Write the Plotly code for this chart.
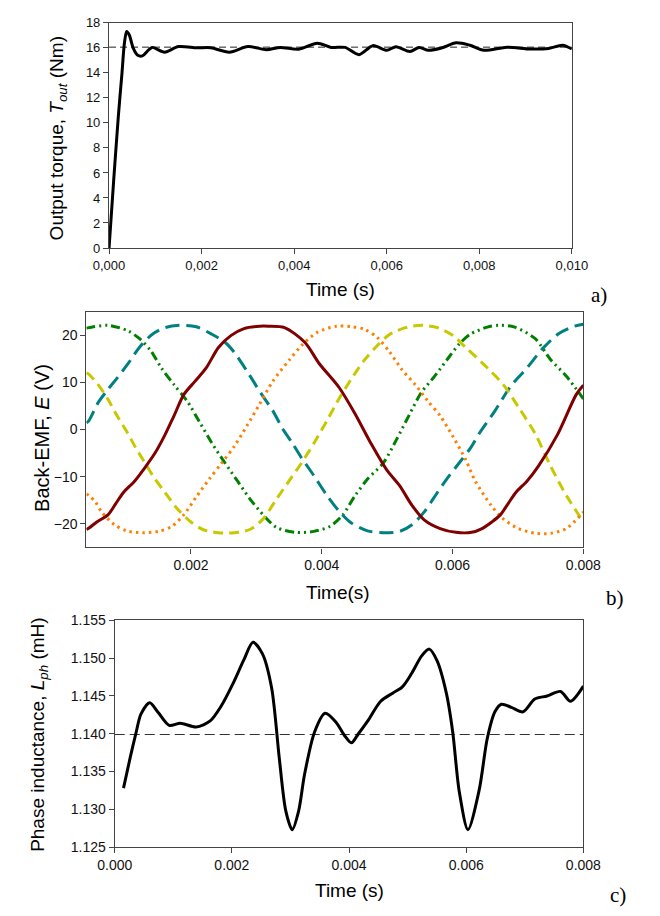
import plotly.graph_objects as go

W, H = 660, 916

# ---------------- Panel a: output torque ----------------
torque_t = [0, 0.0001, 0.0002, 0.00028, 0.00033, 0.00038, 0.00044, 0.00052, 0.00062, 0.00072,
            0.00082, 0.00093, 0.0012, 0.0015, 0.0019, 0.0022, 0.0026, 0.003, 0.0034, 0.0037,
            0.0041, 0.0045, 0.0048, 0.0051, 0.0054, 0.0057, 0.006, 0.0062, 0.0065, 0.0067,
            0.0069, 0.0072, 0.0075, 0.0078, 0.0081, 0.0086, 0.0091, 0.0095, 0.0098, 0.01]
torque_v = [0, 5.4, 10.5, 14.0, 16.3, 17.3, 17.0, 16.0, 15.4, 15.35,
            15.7, 16.03, 15.65, 16.1, 16.0, 16.0, 15.65, 16.1, 15.85, 16.03,
            15.89, 16.37, 16.03, 16.03, 15.45, 16.17, 15.8, 16.08, 15.7, 16.03,
            15.8, 16.0, 16.4, 16.2, 15.8, 16.05, 15.9, 15.95, 16.2, 15.9]
torque_ref_t = [0, 0.01]
torque_ref_v = [16.05, 16.05]
a_xticks = [0, 0.002, 0.004, 0.006, 0.008, 0.010]
a_xlabels = ["0,000", "0,002", "0,004", "0,006", "0,008", "0,010"]
a_yticks = [0, 2, 4, 6, 8, 10, 12, 14, 16, 18]

# ---------------- Panel b: back-EMF (five phases) ----------------
maroon_t = [0.0004, 0.00044, 0.00056, 0.00073, 0.00085, 0.00097, 0.00114, 0.00131, 0.00145, 0.0016,
            0.00174, 0.00189, 0.00206, 0.00223, 0.00242, 0.00261, 0.00281, 0.00305, 0.00319, 0.00343,
            0.00374, 0.00396, 0.00427, 0.00451, 0.00475, 0.00499, 0.00519, 0.00538, 0.00557, 0.00581,
            0.00605, 0.00629, 0.00645, 0.0066, 0.00673, 0.00685, 0.00697, 0.00714, 0.00731, 0.0076,
            0.00789, 0.008]
maroon_v = [-21.2, -20.9, -19.6, -18.1, -15.7, -13.3, -10.9, -7.8, -5.0, -1.2,
            2.9, 7.4, 10.2, 13.0, 17.4, 19.9, 21.4, 21.9, 21.9, 21.6,
            18.5, 14.0, 8.8, 3.3, -2.9, -8.5, -11.9, -16.1, -19.2, -21.0,
            -21.8, -21.8, -21.0, -19.6, -18.1, -15.7, -13.3, -10.9, -7.8, -1.2,
            7.4, 9.4]

green_t = [0.0004, 0.00044, 0.00073, 0.00104, 0.00121, 0.00138, 0.00155, 0.00174, 0.00194, 0.00213,
           0.00232, 0.00252, 0.00271, 0.0029, 0.00313, 0.00331, 0.0036, 0.00388, 0.00413, 0.00432,
           0.00451, 0.0047, 0.00494, 0.00514, 0.00533, 0.00552, 0.00572, 0.00591, 0.0061, 0.00627,
           0.00653, 0.00671, 0.00695, 0.00726, 0.0075, 0.00774, 0.008]
green_v = [21.5, 21.6, 22.1, 20.9, 19.3, 16.8, 13.0, 9.5, 6.05, 1.6,
           -2.9, -7.1, -10.9, -14.7, -18.5, -20.8, -21.8, -21.6, -20.5, -18.1,
           -14.0, -10.5, -7.1, -2.2, 2.9, 7.8, 11.2, 14.7, 18.1, 20.2,
           21.7, 22.1, 21.7, 19.3, 14.8, 11.3, 6.5]

teal_t = [0.0004, 0.00044, 0.00058, 0.00073, 0.00087, 0.00104, 0.00121, 0.00141, 0.0016, 0.00184,
          0.00208, 0.00232, 0.00252, 0.00266, 0.00286, 0.00305, 0.00325, 0.0034, 0.00355, 0.00369,
          0.00388, 0.00408, 0.00427, 0.00446, 0.0047, 0.00494, 0.00519, 0.00538, 0.00557, 0.00577,
          0.00591, 0.0061, 0.00627, 0.00641, 0.00665, 0.00689, 0.00714, 0.00738, 0.00762, 0.00786, 0.008]
teal_v = [1.4, 1.9, 5.7, 8.5, 10.9, 14.0, 17.4, 20.2, 21.6, 22.1,
          21.8, 20.2, 18.5, 16.4, 12.3, 8.1, 4.0, 0.2, -2.9, -6.0,
          -9.8, -14.0, -17.4, -19.9, -21.5, -21.9, -21.6, -20.2, -17.4, -13.3,
          -10.5, -7.1, -4.0, -0.8, 4.0, 9.2, 13.1, 17.2, 20.3, 21.9, 22.3]

yellow_t = [0.0004, 0.00044, 0.00058, 0.00073, 0.00087, 0.00102, 0.00116, 0.00131, 0.00145, 0.0016,
            0.00179, 0.00199, 0.00218, 0.00242, 0.00266, 0.0029, 0.0031, 0.00331, 0.0035, 0.00369,
            0.00388, 0.00408, 0.00427, 0.00446, 0.00465, 0.00485, 0.00504, 0.00528, 0.00552, 0.00577,
            0.00601, 0.0062, 0.00653, 0.00677, 0.00701, 0.00726, 0.0075, 0.00774, 0.008]
yellow_v = [12.0, 11.7, 9.5, 6.4, 2.9, -0.5, -4.0, -7.4, -10.5, -13.3,
            -16.8, -19.5, -21.2, -21.9, -21.9, -21.2, -19.0, -14.7, -10.9, -7.1,
            -2.9, 1.9, 6.7, 10.9, 14.7, 17.8, 20.2, 21.6, 22.1, 21.6,
            19.9, 17.4, 13.1, 9.6, 4.7, -0.8, -7.8, -14.0, -19.6]

orange_t = [0.0004, 0.00044, 0.00054, 0.00063, 0.00083, 0.00102, 0.00126, 0.0015, 0.0017, 0.00189,
            0.00208, 0.00228, 0.00247, 0.00266, 0.00286, 0.00305, 0.00325, 0.0035, 0.00369, 0.00393,
            0.00422, 0.00446, 0.00466, 0.00485, 0.00504, 0.00523, 0.00543, 0.00562, 0.00581, 0.00601,
            0.0062, 0.00635, 0.00659, 0.00677, 0.00701, 0.00726, 0.0075, 0.00774, 0.008]
orange_v = [-13.7, -14.0, -15.4, -17.4, -20.2, -21.5, -21.9, -21.6, -20.6, -18.1,
            -14.3, -10.5, -7.1, -3.6, 0.9, 5.4, 10.2, 14.7, 17.8, 20.6,
            21.9, 21.8, 21.2, 19.5, 16.4, 12.6, 9.5, 6.05, 2.9, -1.6,
            -6.4, -11.0, -16.1, -18.9, -21.0, -22.0, -22.0, -21.0, -17.5]

b_xticks = [0.002, 0.004, 0.006, 0.008]
b_xlabels = ["0.002", "0.004", "0.006", "0.008"]
b_yticks = [-20, -10, 0, 10, 20]

# ---------------- Panel c: phase inductance ----------------
induct_t = [0.00015, 0.00026, 0.000366, 0.000447, 0.000597, 0.000743, 0.000931, 0.00112, 0.00139, 0.00163,
            0.00182, 0.00201, 0.0022, 0.00236, 0.00252, 0.00268, 0.00281, 0.00292, 0.00303, 0.00314,
            0.00324, 0.00341, 0.00359, 0.00378, 0.00392, 0.00404, 0.00416, 0.00432, 0.00454, 0.00475,
            0.00491, 0.00507, 0.00524, 0.00537, 0.0055, 0.00566, 0.00577, 0.00588, 0.00603, 0.00622,
            0.00636, 0.00649, 0.0066, 0.00677, 0.00697, 0.00717, 0.00738, 0.00761, 0.00778, 0.008]
induct_v = [1.1328, 1.1367, 1.1402, 1.1426, 1.1441, 1.1428, 1.1411, 1.1414, 1.1409, 1.1417,
            1.1437, 1.1465, 1.1497, 1.1521, 1.1506, 1.1460, 1.1367, 1.1298, 1.1273, 1.1298,
            1.1346, 1.1402, 1.1427, 1.1415, 1.1398, 1.1388, 1.1400, 1.1417, 1.1443, 1.1454,
            1.1462, 1.1480, 1.1503, 1.1512, 1.1497, 1.1454, 1.1402, 1.1324, 1.1273, 1.1325,
            1.1394, 1.1429, 1.1439, 1.1435, 1.1429, 1.1446, 1.1450, 1.1456, 1.1443, 1.1463]
induct_ref_t = [0, 0.008]
induct_ref_v = [1.1399, 1.1399]
c_xticks = [0, 0.002, 0.004, 0.006, 0.008]
c_xlabels = ["0.000", "0.002", "0.004", "0.006", "0.008"]
c_yticks = [1.125, 1.130, 1.135, 1.140, 1.145, 1.150, 1.155]
c_ylabels = ["1.125", "1.130", "1.135", "1.140", "1.145", "1.150", "1.155"]

FONT = "Liberation Sans, Arial, sans-serif"
SERIF = "Liberation Serif, Times New Roman, serif"


def dom_x(x0, x1):
    return [x0 / W, x1 / W]


def dom_y(top, bottom):
    return [1 - bottom / H, 1 - top / H]


fig = go.Figure()

# panel a
fig.add_trace(go.Scatter(x=torque_ref_t, y=torque_ref_v, mode="lines", xaxis="x", yaxis="y",
                         line=dict(color="#222", width=1, dash="7px,4px"), showlegend=False))
fig.add_trace(go.Scatter(x=torque_t, y=torque_v, mode="lines", xaxis="x", yaxis="y",
                         line=dict(color="black", width=3, shape="spline", smoothing=0.8), showlegend=False))

# panel b
series_b = [
    (green_t, green_v, "#008000", "9px,4px,2px,4px,2px,4px"),
    (teal_t, teal_v, "#008080", "14px,7px"),
    (yellow_t, yellow_v, "#c8c800", "10px,6px"),
    (orange_t, orange_v, "#ff8000", "2.5px,4px"),
    (maroon_t, maroon_v, "#800000", "solid"),
]
for t, v, col, dash in series_b:
    fig.add_trace(go.Scatter(x=t, y=v, mode="lines", xaxis="x2", yaxis="y2",
                             line=dict(color=col, width=3, dash=dash, shape="spline", smoothing=0.8),
                             showlegend=False))

# panel c
fig.add_trace(go.Scatter(x=induct_ref_t, y=induct_ref_v, mode="lines", xaxis="x3", yaxis="y3",
                         line=dict(color="#333", width=1.2, dash="10px,5px"), showlegend=False))
fig.add_trace(go.Scatter(x=induct_t, y=induct_v, mode="lines", xaxis="x3", yaxis="y3",
                         line=dict(color="black", width=3, shape="spline", smoothing=0.8), showlegend=False))

axis_common = dict(showgrid=False, zeroline=False, showline=True, mirror=True,
                   linecolor="#444", linewidth=1.2, ticks="outside", ticklen=5,
                   tickcolor="#444", tickwidth=1)

fig.update_layout(
    width=W, height=H, margin=dict(l=0, r=0, t=0, b=0),
    paper_bgcolor="white", plot_bgcolor="white",
    xaxis=dict(domain=dom_x(96.3, 585.8), range=[0, 0.01], tickvals=a_xticks, ticktext=a_xlabels,
               anchor="y", tickfont=dict(family=FONT, size=13, color="#111"), **axis_common),
    yaxis=dict(domain=dom_y(15, 244.3), range=[0, 18], tickvals=a_yticks,
               anchor="x", tickfont=dict(family=FONT, size=13, color="#111"), **axis_common),
    xaxis2=dict(domain=dom_x(72.3, 598), range=[0.0004, 0.008], tickvals=b_xticks, ticktext=b_xlabels,
                anchor="y2", tickfont=dict(family=FONT, size=14, color="#111"), **axis_common),
    yaxis2=dict(domain=dom_y(309, 549), range=[-25, 25], tickvals=b_yticks,
                anchor="x2", tickfont=dict(family=FONT, size=14, color="#111"), **axis_common),
    xaxis3=dict(domain=dom_x(102.3, 598), range=[0, 0.008], tickvals=c_xticks, ticktext=c_xlabels,
                anchor="y3", tickfont=dict(family=FONT, size=14, color="#111"), **axis_common),
    yaxis3=dict(domain=dom_y(623.3, 854), range=[1.125, 1.155], tickvals=c_yticks, ticktext=c_ylabels,
                anchor="x3", tickfont=dict(family=FONT, size=14, color="#111"), **axis_common),
)


def ann(text, x, y, size, family=FONT, angle=0):
    fig.add_annotation(text=text, x=x / W, y=1 - y / H, xref="paper", yref="paper",
                       showarrow=False, textangle=angle, xanchor="center", yanchor="middle",
                       font=dict(family=family, size=size, color="black"))


ann("Output torque, <i>T</i><sub><i>out</i></sub> (Nm)", 42, 133, 19, angle=-90)
ann("Time (s)", 341, 287, 19)
ann("a)", 614, 292, 21, family=SERIF)

ann("Back-EMF, <i>E</i> (V)", 26, 438, 20, angle=-90)
ann("Time(s)", 338.5, 595, 19)
ann("b)", 631, 600, 21, family=SERIF)

ann("Phase inductance, <i>L</i><sub><i>ph</i></sub> (mH)", 22, 740, 19, angle=-90)
ann("Time (s)", 351, 898, 19)
ann("c)", 635, 903, 21, family=SERIF)

# remove the browser's default page margin so the 660x916 figure fills the window exactly
fig.write_html("out.html", config={"displayModeBar": False},
               post_script="document.body.style.margin='0';document.body.style.overflow='hidden';")
